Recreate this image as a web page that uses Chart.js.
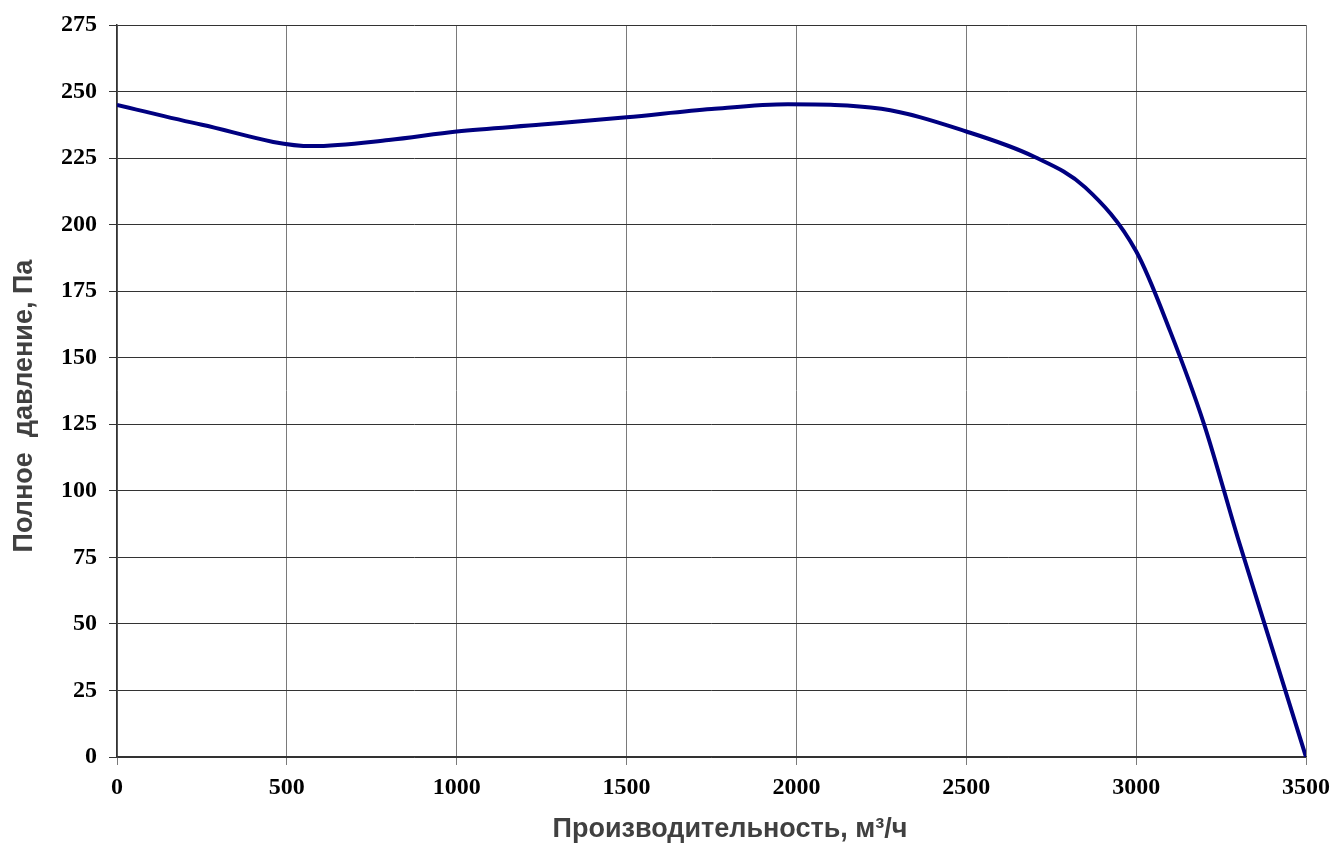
<!DOCTYPE html>
<html>
<head>
<meta charset="utf-8">
<script src="https://cdn.jsdelivr.net/npm/chart.js@4"></script>
<style>
    html, body { margin: 0; padding: 0; background: #ffffff; }
    #wrap { width: 1333px; height: 844px; }
</style>
</head>
<body>
<div id="wrap"><canvas id="fanChart" width="1333" height="844"></canvas></div>
<script>
// Fan curve: flow rate (m3/h) vs total pressure (Pa)
const flowRates = [0, 250, 575, 800, 1000, 1250, 1500, 1750, 1975, 2250, 2500, 2700, 2850, 3000, 3100, 3200, 3300, 3400, 3500];
const pressures = [245, 237.5, 229.5, 231.8, 235, 237.6, 240.3, 243.4, 245.2, 243.5, 235, 225.5, 214, 190, 160, 125, 82, 41, 0];

const xTicks = [0, 500, 1000, 1500, 2000, 2500, 3000, 3500];
const yTicks = [0, 25, 50, 75, 100, 125, 150, 175, 200, 225, 250, 275];

const xTitle = 'Производительность, м³/ч';
const yTitle = 'Полное  давление, Па';

const points = flowRates.map(function(x, i) {
    return { x: x, y: pressures[i] };
});

const tickFont = { family: '"Liberation Serif", "Times New Roman", serif', size: 24, weight: 'bold' };
const titleFont = 'bold 27px "Liberation Sans", Arial, sans-serif';

// axis titles sit a bit off-centre in the original, so draw them by hand
const axisTitles = {
    id: 'axisTitles',
    afterDraw: function(chart) {
        const ctx = chart.ctx;
        ctx.save();
        ctx.font = titleFont;
        ctx.fillStyle = '#404040';
        ctx.textAlign = 'center';
        ctx.textBaseline = 'alphabetic';
        ctx.fillText(xTitle, 730, 837);
        ctx.translate(32, 406);
        ctx.rotate(-Math.PI / 2);
        ctx.fillText(yTitle, 0, 0);
        ctx.restore();
    }
};

new Chart(document.getElementById('fanChart'), {
    type: 'line',
    data: {
        datasets: [{
            data: points,
            borderColor: '#000080',
            borderWidth: 4,
            pointRadius: 0,
            fill: false,
            cubicInterpolationMode: 'monotone'
        }]
    },
    options: {
        responsive: false,
        animation: false,
        layout: { padding: { top: 25, right: 27, left: 0, bottom: 0 } },
        plugins: {
            legend: { display: false },
            tooltip: { enabled: false }
        },
        scales: {
            x: {
                type: 'linear',
                min: xTicks[0],
                max: xTicks[xTicks.length - 1],
                afterBuildTicks: function(scale) {
                    scale.ticks = xTicks.map(function(v) { return { value: v }; });
                },
                afterFit: function(scale) {
                    scale.height = 87;
                    scale.paddingLeft = 0;
                    scale.paddingRight = 0;
                },
                grid: { color: '#7a7a7a', lineWidth: 1, tickLength: 8 },
                border: { color: '#333333', width: 1.5 },
                ticks: {
                    color: '#000000',
                    font: tickFont,
                    padding: 8,
                    maxRotation: 0,
                    callback: function(v) { return String(v); }
                }
            },
            y: {
                min: yTicks[0],
                max: yTicks[yTicks.length - 1],
                afterBuildTicks: function(scale) {
                    scale.ticks = yTicks.map(function(v) { return { value: v }; });
                },
                afterFit: function(scale) {
                    scale.width = 117;
                    scale.paddingTop = 0;
                    scale.paddingBottom = 0;
                },
                grid: { color: '#333333', lineWidth: 1, tickLength: 8 },
                border: { color: '#333333', width: 1.5 },
                ticks: {
                    color: '#000000',
                    font: tickFont,
                    padding: 12,
                    callback: function(v) { return String(v); }
                }
            }
        }
    },
    plugins: [axisTitles]
});
</script>
</body>
</html>
